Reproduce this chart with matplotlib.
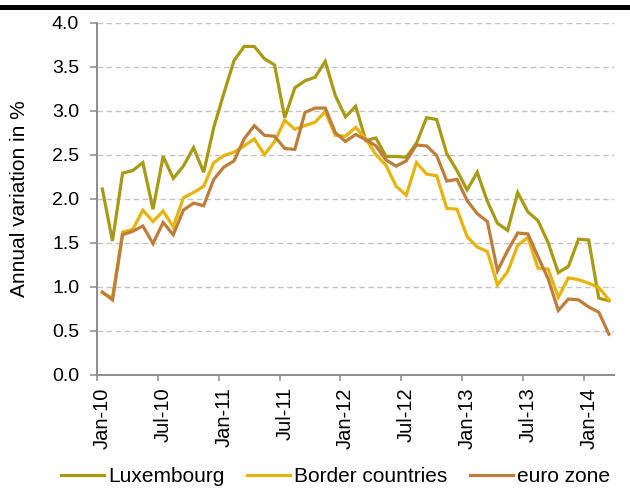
"""
Annual inflation: Luxembourg, border countries and the euro zone, Jan-10 to Mar-14.

Monthly values read off the published chart. Writes out.png (630x488).
"""

import matplotlib.pyplot as plt
import numpy as np
import pandas as pd
from matplotlib.patches import Rectangle

plt.rcParams["font.family"] = ["Liberation Sans", "DejaVu Sans"]

# Annual variation in %, one value per month from Jan-2010 to Mar-2014.
MONTHS = pd.date_range("2010-01-01", periods=51, freq="MS")
LUXEMBOURG = [
    2.11, 1.52, 2.29, 2.32, 2.41, 1.88, 2.48, 2.23, 2.37, 2.58, 2.30, 2.81,
    3.20, 3.57, 3.73, 3.73, 3.59, 3.52, 2.92, 3.26, 3.34, 3.38, 3.56, 3.17,
    2.93, 3.05, 2.66, 2.69, 2.48, 2.48, 2.47, 2.63, 2.92, 2.90, 2.51, 2.32,
    2.10, 2.30, 1.97, 1.72, 1.64, 2.07, 1.85, 1.75, 1.50, 1.16, 1.23, 1.54,
    1.53, 0.87, 0.84,
]
BORDER = [
    0.93, 0.87, 1.62, 1.65, 1.87, 1.74, 1.86, 1.68, 2.01, 2.07, 2.14, 2.41,
    2.49, 2.53, 2.60, 2.68, 2.50, 2.65, 2.89, 2.79, 2.83, 2.87, 2.99, 2.72,
    2.71, 2.81, 2.68, 2.50, 2.38, 2.14, 2.04, 2.41, 2.28, 2.26, 1.89, 1.88,
    1.57, 1.45, 1.40, 1.02, 1.17, 1.47, 1.56, 1.21, 1.20, 0.88, 1.10, 1.08,
    1.04, 0.99, 0.85,
]
EURO_ZONE = [
    0.94, 0.85, 1.59, 1.63, 1.69, 1.49, 1.73, 1.59, 1.87, 1.95, 1.92, 2.22,
    2.36, 2.43, 2.68, 2.83, 2.72, 2.71, 2.57, 2.56, 2.98, 3.03, 3.03, 2.75,
    2.65, 2.73, 2.67, 2.60, 2.44, 2.37, 2.43, 2.61, 2.60, 2.49, 2.20, 2.22,
    1.98, 1.83, 1.74, 1.18, 1.41, 1.61, 1.60, 1.34, 1.09, 0.73, 0.86, 0.85,
    0.77, 0.71, 0.46,
]
SERIES = [
    ("Luxembourg", LUXEMBOURG, "#A99A14"),
    ("Border countries", BORDER, "#E6B40C"),
    ("euro zone", EURO_ZONE, "#BF7D3A"),
]
Y_TICKS = np.arange(0, 4.01, 0.5)
AXIS_GREY = "#8C8C8C"


def main() -> None:
    fig = plt.figure(figsize=(6.3, 4.88), dpi=100)
    ax = fig.add_axes([0.1544, 0.2322, 0.8202, 0.7213])

    x = np.arange(len(MONTHS))
    for label, values, color in SERIES:
        ax.plot(x, values, color=color, linewidth=2.3, label=label,
                solid_joinstyle="miter", zorder=3)

    # Labels sit on the month, tick marks on the category boundaries.
    ax.set_xlim(-0.5, len(MONTHS) - 0.5)
    ax.set_xticks(x[::6])
    ax.set_xticklabels([m.strftime("%b-%y") for m in MONTHS[::6]],
                       rotation=90, fontsize=14.5)
    ax.set_xticks(x[::6] - 0.5, minor=True)
    ax.tick_params(axis="x", which="major", length=0, pad=9)
    ax.tick_params(axis="x", which="minor", length=4.5, width=1.1,
                   color=AXIS_GREY, direction="out")

    ax.set_ylim(0, 4)
    ax.set_yticks(Y_TICKS)
    ax.set_yticklabels([f"{v:.1f}" for v in Y_TICKS], fontsize=14)
    ax.tick_params(axis="y", length=5, width=1.1, color=AXIS_GREY, pad=8)
    ax.yaxis.grid(True, color="#C4C4C4", linewidth=1.0,
                  linestyle=(0, (4, 2.5)), zorder=0)

    for side in ("top", "right"):
        ax.spines[side].set_visible(False)
    for side in ("left", "bottom"):
        ax.spines[side].set_color(AXIS_GREY)
        ax.spines[side].set_linewidth(1.4)

    fig.text(0.031, 0.593, "Annual variation in %", rotation=90,
             ha="center", va="center", fontsize=15)

    fig.legend(loc="center", bbox_to_anchor=(0.533, 0.023), ncol=3,
               frameon=False, fontsize=15, handlelength=2.05,
               handletextpad=0.2, columnspacing=1.1, borderaxespad=0,
               borderpad=0)

    # Thick black rule across the top of the figure.
    fig.add_artist(Rectangle((0, 1 - 10 / 488), 1, 5 / 488,
                             transform=fig.transFigure, color="black", lw=0))

    fig.savefig("out.png", dpi=100, facecolor="white")


if __name__ == "__main__":
    main()
